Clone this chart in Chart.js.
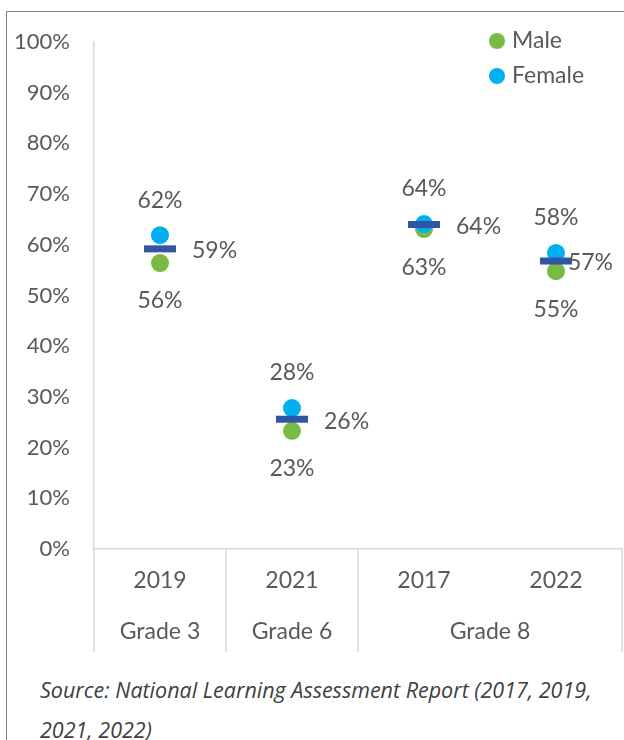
<!DOCTYPE html>
<html>
<head>
<meta charset="utf-8">
<script src="https://cdn.jsdelivr.net/npm/chart.js@4.4.0/dist/chart.umd.min.js"></script>
<style>
  html, body { margin: 0; padding: 0; background: #fff; overflow: hidden; }
  #frame { position: absolute; left: 6px; top: 11px; width: 700px; height: 800px; border-left: 1px solid #7f7f7f; border-top: 1px solid #7f7f7f; }
  #wrap { position: absolute; left: 0; top: 0; width: 624px; height: 660px; }
  #source { position: absolute; left: 40px; top: 670px; width: 580px; font: italic 21.5px "Open Sans"; line-height: 40px; color: #404040; }
</style>
</head>
<body>
<div id="frame"></div>
<div id="wrap"><canvas id="chart"></canvas></div>
<div id="source">Source: National Learning Assessment Report (2017, 2019, 2021, 2022)</div>
<script>
// chart values
var years = ['2019', '2021', '2017', '2022'];
var grades = ['Grade 3', 'Grade 6', 'Grade 8', 'Grade 8'];
var male = [56.4, 23.3, 63.1, 54.8];
var female = [61.9, 27.8, 64.1, 58.4];
var total = [59.2, 25.6, 64.0, 56.8];
var yTicks = [0, 10, 20, 30, 40, 50, 60, 70, 80, 90, 100];

var TEXT = '#595959';
var LINE = '#d9d9d9';
var FONT = '23px Lato';

// value labels next to each point
var labelPlugin = {
  id: 'pointLabels',
  afterDatasetsDraw: function(chart) {
    var ctx = chart.ctx;
    var area = chart.chartArea;
    ctx.save();
    ctx.font = FONT;
    ctx.fillStyle = TEXT;
    ctx.textBaseline = 'middle';
    chart.data.datasets.forEach(function(ds, i) {
      var meta = chart.getDatasetMeta(i);
      meta.data.forEach(function(pt, j) {
        var text = Math.round(ds.data[j]) + '%';
        var w = ctx.measureText(text).width;
        if (ds.labelPos === 'above') {
          ctx.textAlign = 'center';
          ctx.fillText(text, pt.x, pt.y - 35);
        } else if (ds.labelPos === 'below') {
          ctx.textAlign = 'center';
          ctx.fillText(text, pt.x, pt.y + 38);
        } else {
          // keep the label inside the plot, as the original does for the last point
          ctx.textAlign = 'left';
          var x = Math.min(pt.x + 32, area.right - 9 - w);
          ctx.fillText(text, x, pt.y + 2);
        }
      });
    });
    ctx.restore();
  }
};

// two level category axis: dividers and grade names
var groupPlugin = {
  id: 'groupAxis',
  afterDraw: function(chart) {
    var ctx = chart.ctx;
    var xs = chart.scales.x;
    var area = chart.chartArea;
    var half = (xs.getPixelForValue(1) - xs.getPixelForValue(0)) / 2;
    var groups = [];
    grades.forEach(function(g, i) {
      var last = groups[groups.length - 1];
      if (last && last.name === g) last.end = i;
      else groups.push({ name: g, start: i, end: i });
    });
    ctx.save();
    ctx.strokeStyle = LINE;
    ctx.lineWidth = 1.5;
    ctx.font = FONT;
    ctx.fillStyle = TEXT;
    ctx.textAlign = 'center';
    ctx.textBaseline = 'middle';
    groups.forEach(function(g, k) {
      var left = xs.getPixelForValue(g.start) - half;
      var right = xs.getPixelForValue(g.end) + half;
      ctx.beginPath();
      ctx.moveTo(left, area.bottom);
      ctx.lineTo(left, area.bottom + 103);
      if (k === groups.length - 1) {
        ctx.moveTo(right, area.bottom);
        ctx.lineTo(right, area.bottom + 103);
      }
      ctx.stroke();
      ctx.fillText(g.name, (left + right) / 2, area.bottom + 83);
    });
    ctx.restore();
  }
};

// legend in the top right corner of the plot
var legendPlugin = {
  id: 'cornerLegend',
  afterDraw: function(chart) {
    var ctx = chart.ctx;
    var area = chart.chartArea;
    var x = area.right - 125;
    var y = area.top - 1;
    ctx.save();
    ctx.font = FONT;
    ctx.textBaseline = 'middle';
    ctx.textAlign = 'left';
    chart.data.datasets.forEach(function(ds) {
      if (!ds.inLegend) return;
      ctx.fillStyle = ds.backgroundColor;
      ctx.beginPath();
      ctx.arc(x, y, 8, 0, Math.PI * 2);
      ctx.fill();
      ctx.fillStyle = TEXT;
      ctx.fillText(ds.label, x + 15, y);
      y += 35;
    });
    ctx.restore();
  }
};

var ctx = document.getElementById('chart');
var chart = new Chart(ctx, {
  type: 'line',
  data: {
    labels: years,
    datasets: [{
      label: 'Male',
      data: male,
      showLine: false,
      backgroundColor: '#7ab942',
      borderColor: '#7ab942',
      pointRadius: 9,
      pointBorderWidth: 0,
      order: 2,
      labelPos: 'below',
      inLegend: true
    }, {
      label: 'Female',
      data: female,
      showLine: false,
      backgroundColor: '#00b0f0',
      borderColor: '#00b0f0',
      pointRadius: 9,
      pointBorderWidth: 0,
      order: 1,
      labelPos: 'above',
      inLegend: true
    }, {
      label: 'Total',
      data: total,
      showLine: false,
      pointStyle: 'line',
      pointRadius: 16,
      pointBorderWidth: 7,
      borderColor: '#2f55a4',
      backgroundColor: '#2f55a4',
      order: 0,
      labelPos: 'right',
      inLegend: false
    }]
  },
  options: {
    responsive: true,
    maintainAspectRatio: false,
    animation: false,
    events: [],
    layout: { autoPadding: false, padding: { top: 42, right: 2, left: 0, bottom: 0 } },
    plugins: {
      legend: { display: false },
      tooltip: { enabled: false }
    },
    scales: {
      x: {
        offset: true,
        grid: { display: false },
        border: { color: LINE, width: 1.5 },
        ticks: { color: TEXT, font: { family: 'Lato', size: 23 }, padding: 10 },
        afterFit: function(s) {
          s.height = 111;
          s.paddingLeft = 0;
          s.paddingRight = 0;
        }
      },
      y: {
        min: 0,
        max: 100,
        grid: { display: false },
        border: { color: LINE, width: 1.5 },
        afterBuildTicks: function(s) { s.ticks = yTicks.map(function(v) { return { value: v }; }); },
        ticks: {
          color: TEXT,
          font: { family: 'Lato', size: 22 },
          padding: 16,
          callback: function(v) { return v + '%'; }
        },
        afterFit: function(s) { s.width = 94; }
      }
    }
  },
  plugins: [labelPlugin, groupPlugin, legendPlugin]
});
</script>
</body>
</html>
